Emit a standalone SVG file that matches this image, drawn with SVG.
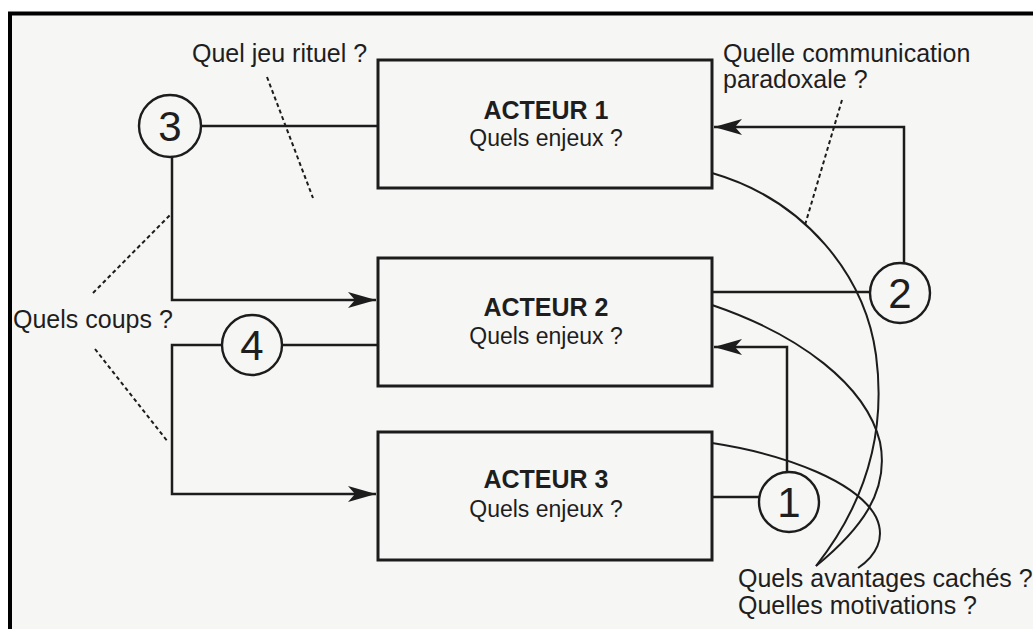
<svg xmlns="http://www.w3.org/2000/svg" width="1033" height="629" viewBox="0 0 1033 629">
<style>
.frame{fill:none;stroke:#000;stroke-width:4}
.box{fill:#f6f6f5;stroke:#1c1c1c;stroke-width:3}
.ln{fill:none;stroke:#1c1c1c;stroke-width:2.5}
.cv{fill:none;stroke:#1c1c1c;stroke-width:2}
.dash{fill:none;stroke:#1c1c1c;stroke-width:2;stroke-dasharray:4 3}
.circ{fill:#f6f6f5;stroke:#1c1c1c;stroke-width:2.4}
.t{font-family:"Liberation Sans",Arial,sans-serif;fill:#1e1e1e}
.lab{font-size:25px}
.ttl{font-size:25px;font-weight:bold;text-anchor:middle}
.sub{font-size:23px;text-anchor:middle}
.num{font-size:42px;text-anchor:middle}
</style>
<defs>
<marker id="ah" markerWidth="30" markerHeight="18" refX="28" refY="9" orient="auto" markerUnits="userSpaceOnUse">
<path d="M28,9 L0,1 L7,9 L0,17 Z" fill="#1c1c1c"/>
</marker>
</defs>
<rect x="0" y="0" width="1033" height="629" fill="#ffffff"/>
<rect x="10" y="13.5" width="1030" height="620" fill="#f6f6f5"/>
<path class="frame" d="M10,629 V13.5 H1033"/>

<g id="connectors">
<path class="ln" d="M201,126 H378"/>
<path class="ln" d="M172,157 V300 H376" marker-end="url(#ah)"/>
<path class="ln" d="M282,345 H378"/>
<path class="ln" d="M222,345 H172 V494 H376" marker-end="url(#ah)"/>
<path class="ln" d="M712,292 H870"/>
<path class="ln" d="M904,263 V127 H714" marker-end="url(#ah)"/>
<path class="ln" d="M712,497 H759"/>
<path class="ln" d="M787,472 V347 H714" marker-end="url(#ah)"/>
<path class="cv" d="M712,173 C805,200 865,275 876,355 C886,430 868,500 816,566"/>
<path class="cv" d="M712,305 C800,335 866,385 880,442 C890,492 860,530 816,566"/>
<path class="cv" d="M712,443 C790,455 858,483 876,517 C886,538 876,556 858,568"/>
<path class="dash" d="M267,77 L313,198"/>
<path class="dash" d="M93,293 L172,213"/>
<path class="dash" d="M95,349 L168,442"/>
<path class="dash" d="M842,100 L805,225"/>
</g>

<g id="box1">
<rect class="box" x="378" y="60" width="334" height="128"/>
<text class="t ttl" x="546" y="119">ACTEUR 1</text>
<text class="t sub" x="546" y="146">Quels enjeux ?</text>
</g>
<g id="box2">
<rect class="box" x="378" y="258" width="334" height="128"/>
<text class="t ttl" x="546" y="316">ACTEUR 2</text>
<text class="t sub" x="546" y="344">Quels enjeux ?</text>
</g>
<g id="box3">
<rect class="box" x="378" y="432" width="334" height="128"/>
<text class="t ttl" x="546" y="488">ACTEUR 3</text>
<text class="t sub" x="546" y="517">Quels enjeux ?</text>
</g>

<g id="c3">
<circle class="circ" cx="170" cy="126" r="31"/>
<text class="t num" x="170" y="141">3</text>
</g>
<g id="c4">
<circle class="circ" cx="252" cy="345" r="30"/>
<text class="t num" x="252" y="360">4</text>
</g>
<g id="c2">
<circle class="circ" cx="900" cy="293" r="30"/>
<text class="t num" x="900" y="308">2</text>
</g>
<g id="c1">
<circle class="circ" cx="789" cy="502" r="30"/>
<text class="t num" x="789" y="517">1</text>
</g>

<g id="labels">
<text class="t lab" x="192" y="62">Quel jeu rituel ?</text>
<text class="t lab" x="723" y="62">Quelle communication</text>
<text class="t lab" x="723" y="88">paradoxale ?</text>
<text class="t lab" x="13" y="328">Quels coups ?</text>
<text class="t lab" x="738" y="587">Quels avantages cachés ?</text>
<text class="t lab" x="738" y="614">Quelles motivations ?</text>
</g>
</svg>
